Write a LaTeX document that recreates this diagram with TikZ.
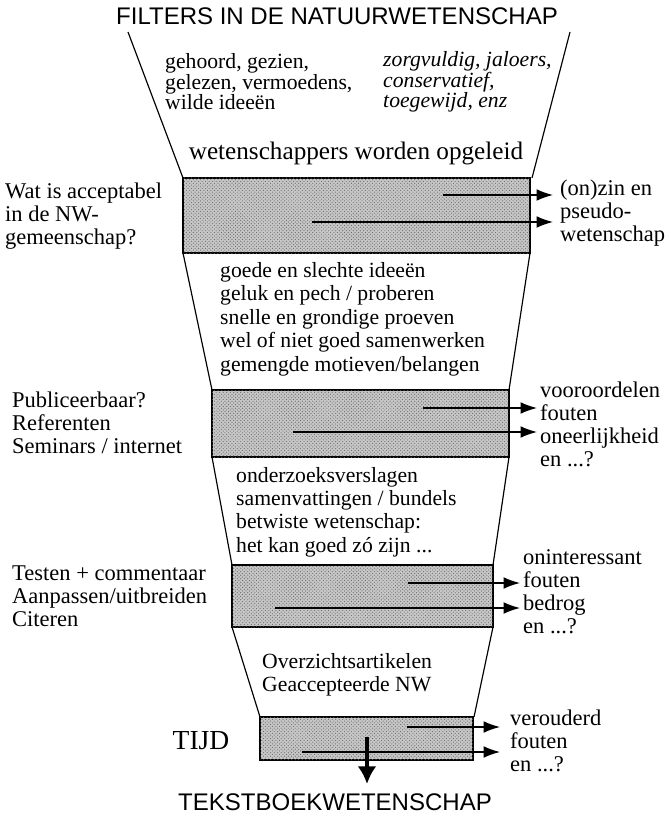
\documentclass[tikz,border=0pt]{standalone}
\usepackage{fontspec}
\setmainfont{Liberation Serif}
\newfontfamily\headfont{Liberation Sans}
\usetikzlibrary{arrows.meta,patterns}
\tikzset{>={Latex[length=14pt,width=10pt]}}
\tikzset{
  filterbox/.style={draw,line width=0.9pt,fill=black!22,postaction={pattern=crosshatch dots,pattern color=black!60}},
  funnel/.style={line width=1pt},
  leak/.style={->,line width=1.1pt},
  txt/.style={anchor=west,inner sep=0pt,align=left,font=\fontsize{19.2}{19.6}\selectfont},
  head/.style={inner sep=0pt,font=\headfont\fontsize{20.5}{24}\selectfont}
}

\begin{document}
\begin{tikzpicture}[x=0.03cm,y=-0.03cm]
\useasboundingbox (0,0) rectangle (670,823);
% funnel sides
\draw[funnel] (128,32) -- (183,178);
\draw[funnel] (570,32) -- (532,178);
\draw[funnel] (183,253) -- (212,390);
\draw[funnel] (530,253) -- (509,390);
\draw[funnel] (212,457) -- (232,565);
\draw[funnel] (509,457) -- (493,565);
\draw[funnel] (232,627) -- (260,717);
\draw[funnel] (493,627) -- (474,717);
% filters
\draw[filterbox] (183,178) rectangle (530,253);
\draw[filterbox] (212,390) rectangle (509,457);
\draw[filterbox] (232,565) rectangle (493,627);
\draw[filterbox] (260,717) rectangle (473,760);
% titles
\node[head] (titel) at (337,16) {FILTERS IN DE NATUURWETENSCHAP};
\node[head] (tekstboek) at (335,802) {TEKSTBOEKWETENSCHAP};
% inside the funnel
\node[txt,font=\fontsize{18.5}{17.5}\selectfont] (bron) at (165,82) {gehoord, gezien,\\gelezen, vermoedens,\\wilde ideeën};
\node[txt,font=\itshape\fontsize{18.5}{17.5}\selectfont] (mens) at (383,82) {zorgvuldig, jaloers,\\conservatief,\\toegewijd, enz};
\node[inner sep=0pt,font=\fontsize{21.5}{24}\selectfont] (opleiding) at (356,153) {wetenschappers worden opgeleid};
\node[txt,font=\fontsize{18.5}{20}\selectfont] (onderzoek) at (220,319) {goede en slechte ideeën\\geluk en pech / proberen\\snelle en grondige proeven\\wel of niet goed samenwerken\\gemengde motieven/belangen};
\node[txt,font=\fontsize{18.5}{20}\selectfont] (verslagen) at (236,512) {onderzoeksverslagen\\samenvattingen / bundels\\betwiste wetenschap:\\het kan goed zó zijn ...};
\node[txt,font=\fontsize{18.5}{20}\selectfont] (overzicht) at (262,675) {Overzichtsartikelen\\Geaccepteerde NW};
% left of the filters
\node[txt] (vraag1) at (5,216) {Wat is acceptabel\\in de NW-\\gemeenschap?};
\node[txt] (vraag2) at (12,423) {Publiceerbaar?\\Referenten\\Seminars / internet};
\node[txt] (vraag3) at (12,596) {Testen + commentaar\\Aanpassen/uitbreiden\\Citeren};
\node[inner sep=0pt,font=\fontsize{23.5}{26}\selectfont] (tijd) at (201,741) {TIJD};
% right of the filters
\node[txt] (uit1) at (560,213) {(on)zin en\\pseudo-\\wetenschap};
\node[txt] (uit2) at (540,424) {vooroordelen\\fouten\\oneerlijkheid\\en ...?};
\node[txt] (uit3) at (523,592) {oninteressant\\fouten\\bedrog\\en ...?};
\node[txt] (uit4) at (510,741) {verouderd\\fouten\\en ...?};
% leaks
\coordinate (a1) at (443,195); \coordinate (b1) at (553,195);
\coordinate (c1) at (312,222); \coordinate (d1) at (553,222);
\coordinate (a2) at (423,408); \coordinate (b2) at (537,408);
\coordinate (c2) at (293,432); \coordinate (d2) at (537,432);
\coordinate (a3) at (408,583); \coordinate (b3) at (520,583);
\coordinate (c3) at (275,608); \coordinate (d3) at (520,608);
\coordinate (a4) at (407,727); \coordinate (b4) at (500,727);
\coordinate (c4) at (302,752); \coordinate (d4) at (500,752);
\draw[leak] (a1) -- (b1);
\draw[leak] (c1) -- (d1);
\draw[leak] (a2) -- (b2);
\draw[leak] (c2) -- (d2);
\draw[leak] (a3) -- (b3);
\draw[leak] (c3) -- (d3);
\draw[leak] (a4) -- (b4);
\draw[leak] (c4) -- (d4);
% way out
\coordinate (uitgang) at (367,737);
\coordinate (boek) at (367,784);
\draw[-{Latex[length=15pt,width=16pt]},line width=3.4pt] (uitgang) -- (boek);
\end{tikzpicture}
\end{document}
